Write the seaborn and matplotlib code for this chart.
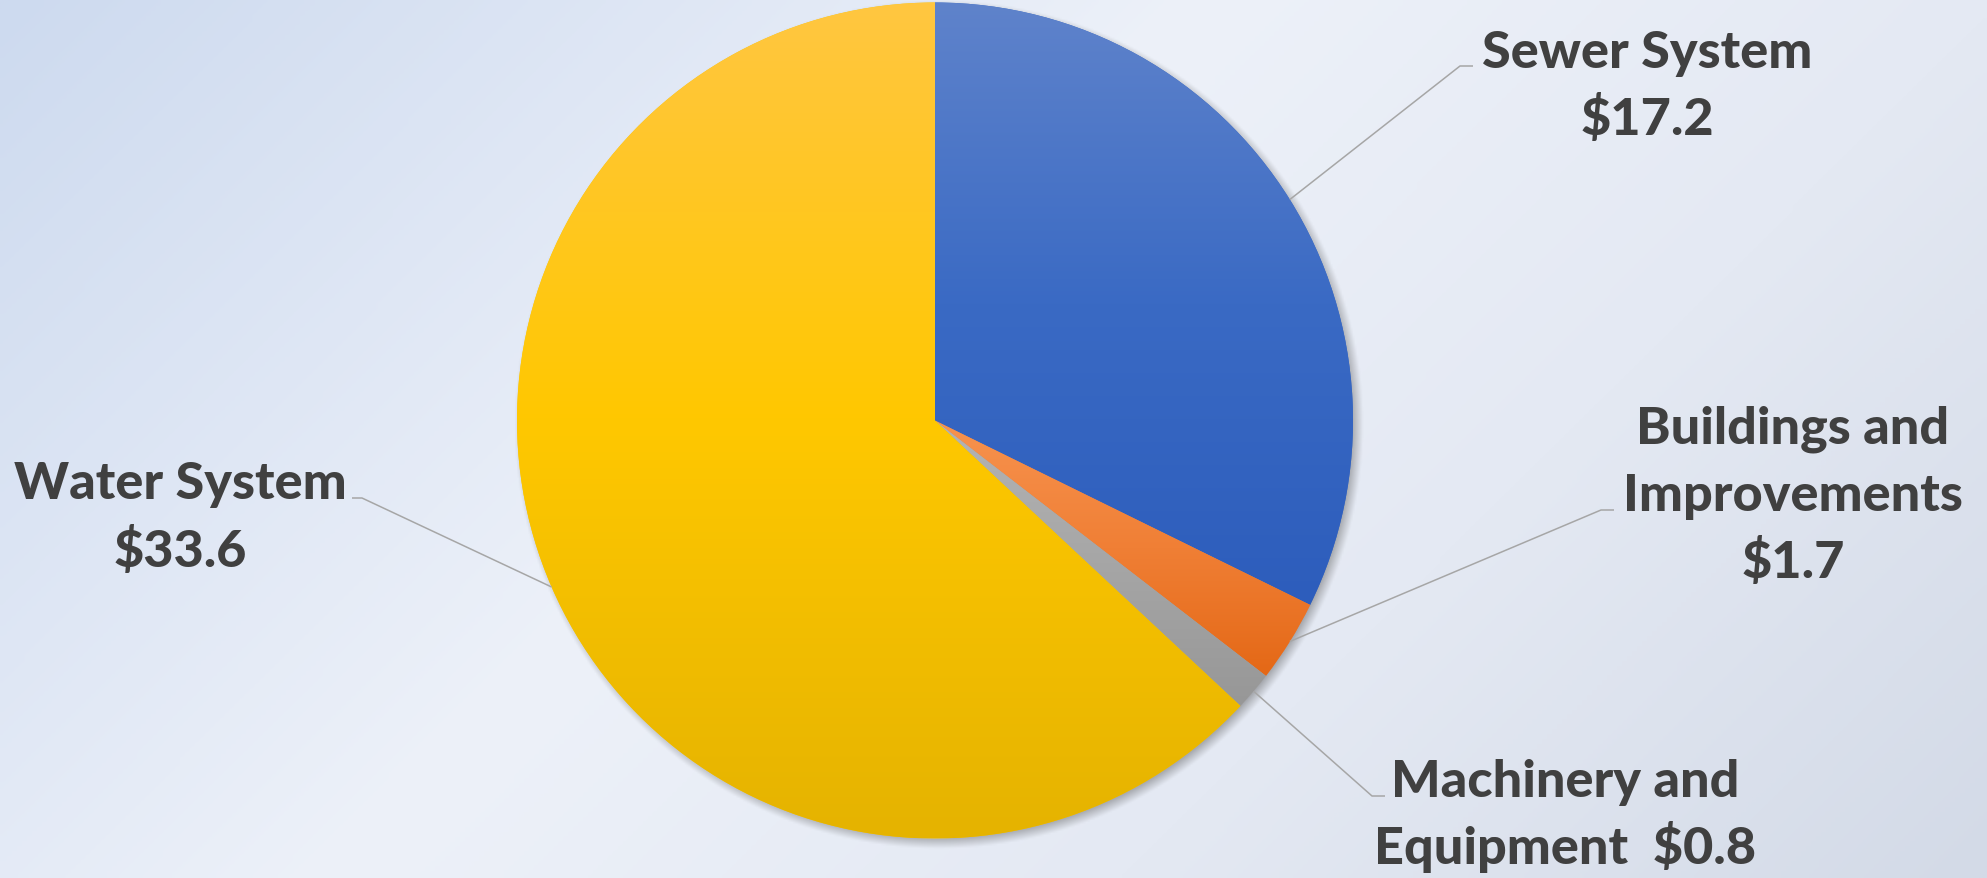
import numpy as np
import matplotlib
matplotlib.use("Agg")
import matplotlib.pyplot as plt
from matplotlib.colors import LinearSegmentedColormap
import seaborn as sns

# Capital assets by category ($ millions)
categories = ["Sewer System", "Buildings and\nImprovements", "Machinery and\nEquipment", "Water System"]
values = [17.2, 1.7, 0.8, 33.6]

# vertical gradient stops (top -> bottom) per slice
slice_gradients = [
    ["#5f83cb", "#3a6ac4", "#2d5dbc"],
    ["#f7934f", "#f07f35", "#e46816"],
    ["#b4b4b4", "#a6a6a6", "#979797"],
    ["#ffc641", "#ffc800", "#e5b300"],
]

sns.set_theme(style="white")
plt.rcParams["font.family"] = ["Lato", "DejaVu Sans"]

W, H = 1987, 879
CX, CY, R = 935.0, 421.5, 418.0
XLIM = (-CX / R, (W - CX) / R)
YLIM = (-(H - CY) / R, CY / R)

fig = plt.figure(figsize=(W / 100, H / 100), dpi=100)
ax = fig.add_axes([0, 0, 1, 1])


def px(x, y):
    """pixel position (from top-left) -> data coordinates"""
    return (x - CX) / R, (CY - y) / R


# background: diagonal soft gradient
gx, gy = np.meshgrid(np.linspace(0, 1, 400), np.linspace(0, 1, 180))
t = (gx * W + gy * H) / (W + H)
bg_stops = [(0.0, "#cddaef"), (0.42, "#edf1f9"), (0.7, "#e4e9f3"), (1.0, "#d3dae7")]
bg_cmap = LinearSegmentedColormap.from_list("bg", bg_stops)
ax.imshow(bg_cmap(t), extent=(*XLIM, *YLIM), origin="upper",
          aspect="auto", zorder=0, interpolation="bilinear")

# soft drop shadow under the pie
sx, sy = np.meshgrid(np.linspace(-1.1, 1.1, 500), np.linspace(-1.1, 1.1, 500))
off = 4 / R
d = np.hypot(sx - off, sy + off)
blur = 7 / R
alpha = np.clip((1 + blur - d) / (2 * blur), 0, 1) * 0.55
shadow = np.zeros(sx.shape + (4,))
shadow[..., :3] = 0.35
shadow[..., 3] = alpha
ax.imshow(shadow, extent=(-1.1, 1.1, -1.1, 1.1), origin="lower",
          aspect="auto", zorder=1, interpolation="bilinear")

wedges, _ = ax.pie(values, startangle=90, counterclock=False, radius=1,
                   center=(0, 0), colors=[g[1] for g in slice_gradients],
                   wedgeprops=dict(linewidth=0), frame=True)

for w, stops in zip(wedges, slice_gradients):
    w.set_zorder(2)
    ext = w.get_path().transformed(w.get_patch_transform()).get_extents()
    cmap = LinearSegmentedColormap.from_list("g", stops)
    grad = cmap(np.linspace(0, 1, 256))[:, None, :]
    im = ax.imshow(grad, extent=(ext.x0, ext.x1, ext.y0, ext.y1), origin="upper",
                   aspect="auto", zorder=3, interpolation="bilinear")
    im.set_clip_path(w)

# labels with leader lines
text_color = "#404040"
line_color = "#a6a6a6"
fs = 37.5
label_layout = [
    # (x center, baselines, elbow, end of leader)
    (1647, [68, 135], (1460, 67), (1473, 67)),
    (1793, [444, 511, 578], (1601, 511), (1614, 511)),
    (1565, [797, 864], (1372, 797), (1385, 797)),
    (180, [499, 567], (362, 499), (352, 499)),
]

total = sum(values)
start = 90.0
for val, name, (tx, baselines, elbow, end) in zip(values, categories, label_layout):
    span = 360.0 * val / total
    mid = np.deg2rad(start - span / 2)
    start -= span
    ex, ey = px(*elbow)
    nx, ny = px(*end)
    ax.plot([np.cos(mid), ex, nx], [np.sin(mid), ey, ny], color=line_color, lw=1.1,
            zorder=4, solid_capstyle="butt")
    lines = name.split("\n")
    if name.startswith("Machinery"):
        lines = [lines[0], f"{lines[1]}  ${val}"]
    else:
        lines = lines + [f"${val}"]
    for line, by in zip(lines, baselines):
        ax.text(*px(tx, by), line, ha="center", va="baseline", fontsize=fs,
                fontweight="black", color=text_color, zorder=5)

ax.set_xlim(*XLIM)
ax.set_ylim(*YLIM)
ax.set_aspect("auto")
ax.set_axis_off()

fig.savefig("out.png", dpi=100)
